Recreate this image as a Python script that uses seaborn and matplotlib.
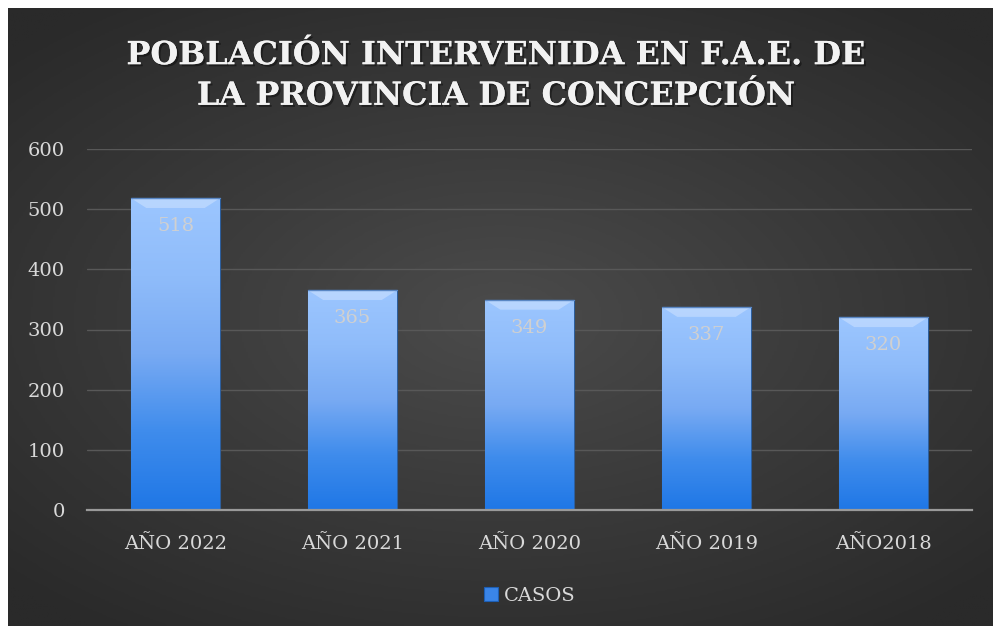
import numpy as np
import pandas as pd
import matplotlib
matplotlib.use("Agg")
import matplotlib.pyplot as plt
import matplotlib.patheffects as pe
from matplotlib.colors import LinearSegmentedColormap
import seaborn as sns

# Datos del gráfico
anios = ["AÑO 2022", "AÑO 2021", "AÑO 2020", "AÑO 2019", "AÑO2018"]
casos = [518, 365, 349, 337, 320]
serie = "CASOS"
titulo = "POBLACIÓN INTERVENIDA EN F.A.E. DE\nLA PROVINCIA DE CONCEPCIÓN"

df = pd.DataFrame({"anio": anios, "casos": casos})

sns.set_theme(style="dark")
plt.rcParams['font.family'] = ['DejaVu Serif', 'DejaVu Sans']

texto = "#d9d9d9"
fig = plt.figure(figsize=(9.93, 6.26), dpi=100)
fig.patch.set_facecolor("white")

# Fondo oscuro con degradado radial
bg = fig.add_axes([8 / 993, 0, 985 / 993, 618 / 626])
yy, xx = np.mgrid[-1:1:300j, -1:1:480j]
r = np.sqrt((xx * 0.9) ** 2 + (yy * 1.0) ** 2)
bg_cmap = LinearSegmentedColormap.from_list("bg", ["#4b4b4b", "#3a3a3a", "#2a2a2a"])
bg.imshow(r, cmap=bg_cmap, aspect="auto", extent=[0, 1, 0, 1], vmin=0, vmax=1.25)
bg.set_axis_off()

ax = fig.add_axes([87 / 993, 1 - 510 / 626, (972 - 87) / 993, (510 - 149) / 626])
ax.patch.set_alpha(0)

sns.barplot(data=df, x="anio", y="casos", color="#5b9bf0", width=0.5,
            ax=ax, zorder=3, label=serie, edgecolor="#2d5f9e", linewidth=0.8)

# Degradado vertical dentro de cada barra
bar_cmap = LinearSegmentedColormap.from_list(
    "bar", ["#1f77e6", "#3f8cec", "#78aaf3", "#8fbcfa", "#9cc6ff"])
grad = np.linspace(0, 1, 256).reshape(-1, 1)
for p in list(ax.patches):
    x0, y0 = p.get_x(), p.get_y()
    w, h = p.get_width(), p.get_height()
    im = ax.imshow(grad, cmap=bar_cmap, origin="lower", aspect="auto",
                   extent=[x0, x0 + w, y0, y0 + h], zorder=4)
    im.set_clip_path(p)
    # bisel superior
    d = w * 0.17
    ax.fill([x0, x0 + w, x0 + w - d, x0 + d], [y0 + h, y0 + h, y0 + h - 16, y0 + h - 16],
            color="#cfe3ff", alpha=0.55, zorder=5, lw=0)
    ax.plot([x0, x0 + w], [y0 + h, y0 + h], color="#5a87c4", lw=1, zorder=6)

ax.set_xlim(-0.5, len(anios) - 0.5)
ax.set_ylim(0, 600)
ax.set_yticks(range(0, 601, 100))
ax.grid(axis="y", color="#585858", lw=1, zorder=0)
ax.grid(axis="x", visible=False)
for s in ["top", "right", "left"]:
    ax.spines[s].set_visible(False)
ax.spines["bottom"].set_color("#9a9a9a")
ax.spines["bottom"].set_linewidth(1.6)
ax.spines["bottom"].set_zorder(7)
ax.tick_params(axis="both", colors=texto, labelsize=14, length=0)
ax.tick_params(axis="y", pad=16)
ax.tick_params(axis="x", pad=18)
ax.set_xlabel("")
ax.set_ylabel("")

# Etiquetas de datos
for i, v in enumerate(casos):
    ax.annotate(str(v), (i, v), xytext=(0, -20), textcoords="offset points",
                ha="center", va="center", color="#d0d0d0", fontsize=14, zorder=8)

# Título
fig.text(0.5, 1 - 76 / 626, titulo, ha="center", va="center", color="#f2f2f2",
         fontsize=23, fontweight="bold", linespacing=1.4,
         path_effects=[pe.withSimplePatchShadow(offset=(1.5, -1.5), shadow_rgbFace="black", alpha=0.4),
                       pe.Normal()])

# Leyenda
leg = ax.legend(loc="upper center", bbox_to_anchor=(0.5, -0.165), frameon=False,
                prop={"family": "DejaVu Serif", "size": 14},
                handlelength=0.7, handleheight=0.7, handletextpad=0.3)
for t in leg.get_texts():
    t.set_color(texto)
for h in leg.legend_handles:
    h.set_facecolor("#3a85e8")
    h.set_edgecolor("#1d5fb5")

fig.savefig("out.png", dpi=100, facecolor=fig.get_facecolor())
